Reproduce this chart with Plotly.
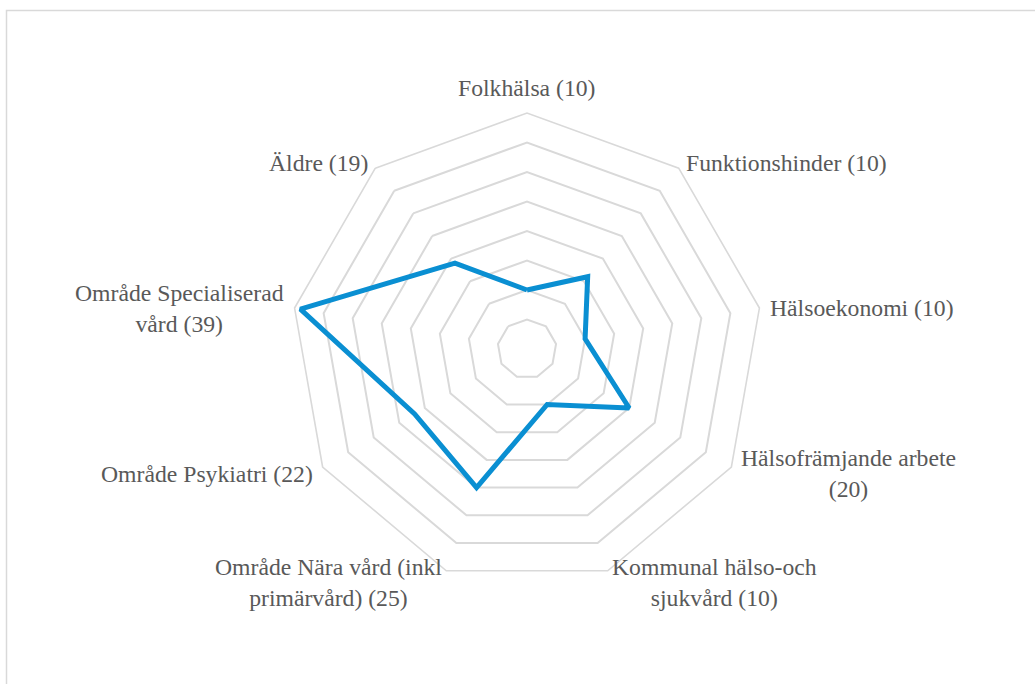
import math
import plotly.graph_objects as go

categories = [
    "Folkhälsa (10)",
    "Funktionshinder (10)",
    "Hälsoekonomi (10)",
    "Hälsofrämjande arbete<br>(20)",
    "Kommunal hälso-och<br>sjukvård (10)",
    "Område Nära vård (inkl<br>primärvård) (25)",
    "Område Psykiatri (22)",
    "Område Specialiserad<br>vård (39)",
    "Äldre (19)",
]
values = [10, 16, 10, 20, 10, 25, 22, 39, 19]
radial_max = 40
radial_step = 5

W, H = 1035, 684
CX, CY, R = 527, 349, 236  # polar centre and outer radius in pixels
FONT = "Liberation Serif"
FSIZE = 23.7

fig = go.Figure()
fig.add_trace(go.Scatterpolar(
    r=values + values[:1],
    theta=categories + categories[:1],
    mode="lines",
    line=dict(color="#0A8FD2", width=5),
    hoverinfo="skip",
    showlegend=False,
))

dom_x = [(CX - R) / W, (CX + R) / W]
dom_y = [(H - CY - R) / H, (H - CY + R) / H]

fig.update_layout(
    width=W, height=H,
    margin=dict(l=0, r=0, t=0, b=0),
    paper_bgcolor="white",
    plot_bgcolor="white",
    font=dict(family=FONT, size=FSIZE, color="#595959"),
    polar=dict(
        domain=dict(x=dom_x, y=dom_y),
        gridshape="linear",
        bgcolor="white",
        radialaxis=dict(
            range=[0, radial_max], dtick=radial_step, tick0=0,
            showticklabels=False, ticks="", showline=False,
            gridcolor="#D9D9D9", gridwidth=1.6,
        ),
        angularaxis=dict(
            direction="clockwise", rotation=90,
            showticklabels=False, ticks="", showgrid=False,
            showline=True, linecolor="#D9D9D9", linewidth=1.6,
        ),
    ),
)

# category labels placed just outside each outer vertex, Excel style
n = len(categories)
pad = 10
for i, lab in enumerate(categories):
    ang = 2 * math.pi * i / n
    sx, cy_ = math.sin(ang), -math.cos(ang)
    px = CX + (R + pad) * sx
    py = CY + (R + pad) * cy_
    if sx > 0.1:
        xa, ya = "left", "middle"
    elif sx < -0.1:
        xa, ya = "right", "middle"
    else:
        xa, ya = "center", "bottom"
    if ya == "middle":
        py += 2
    if xa == "left":
        px -= 1
    elif xa == "right":
        px += 1
    fig.add_annotation(
        x=px / W, y=1 - py / H, xref="paper", yref="paper",
        text=lab, showarrow=False, xanchor=xa, yanchor=ya, align="center",
        font=dict(family=FONT, size=FSIZE, color="#595959"),
    )

# light chart-area border
fig.add_shape(
    type="rect", xref="paper", yref="paper",
    x0=6.5 / W, x1=1.05, y0=-0.05, y1=1 - 10.5 / H,
    line=dict(color="#D9D9D9", width=1.5), fillcolor="rgba(0,0,0,0)", layer="below",
)

fig.write_html(
    "out.html",
    config={"displayModeBar": False},
    post_script="document.body.style.margin='0px';document.body.style.overflow='hidden';",
)
